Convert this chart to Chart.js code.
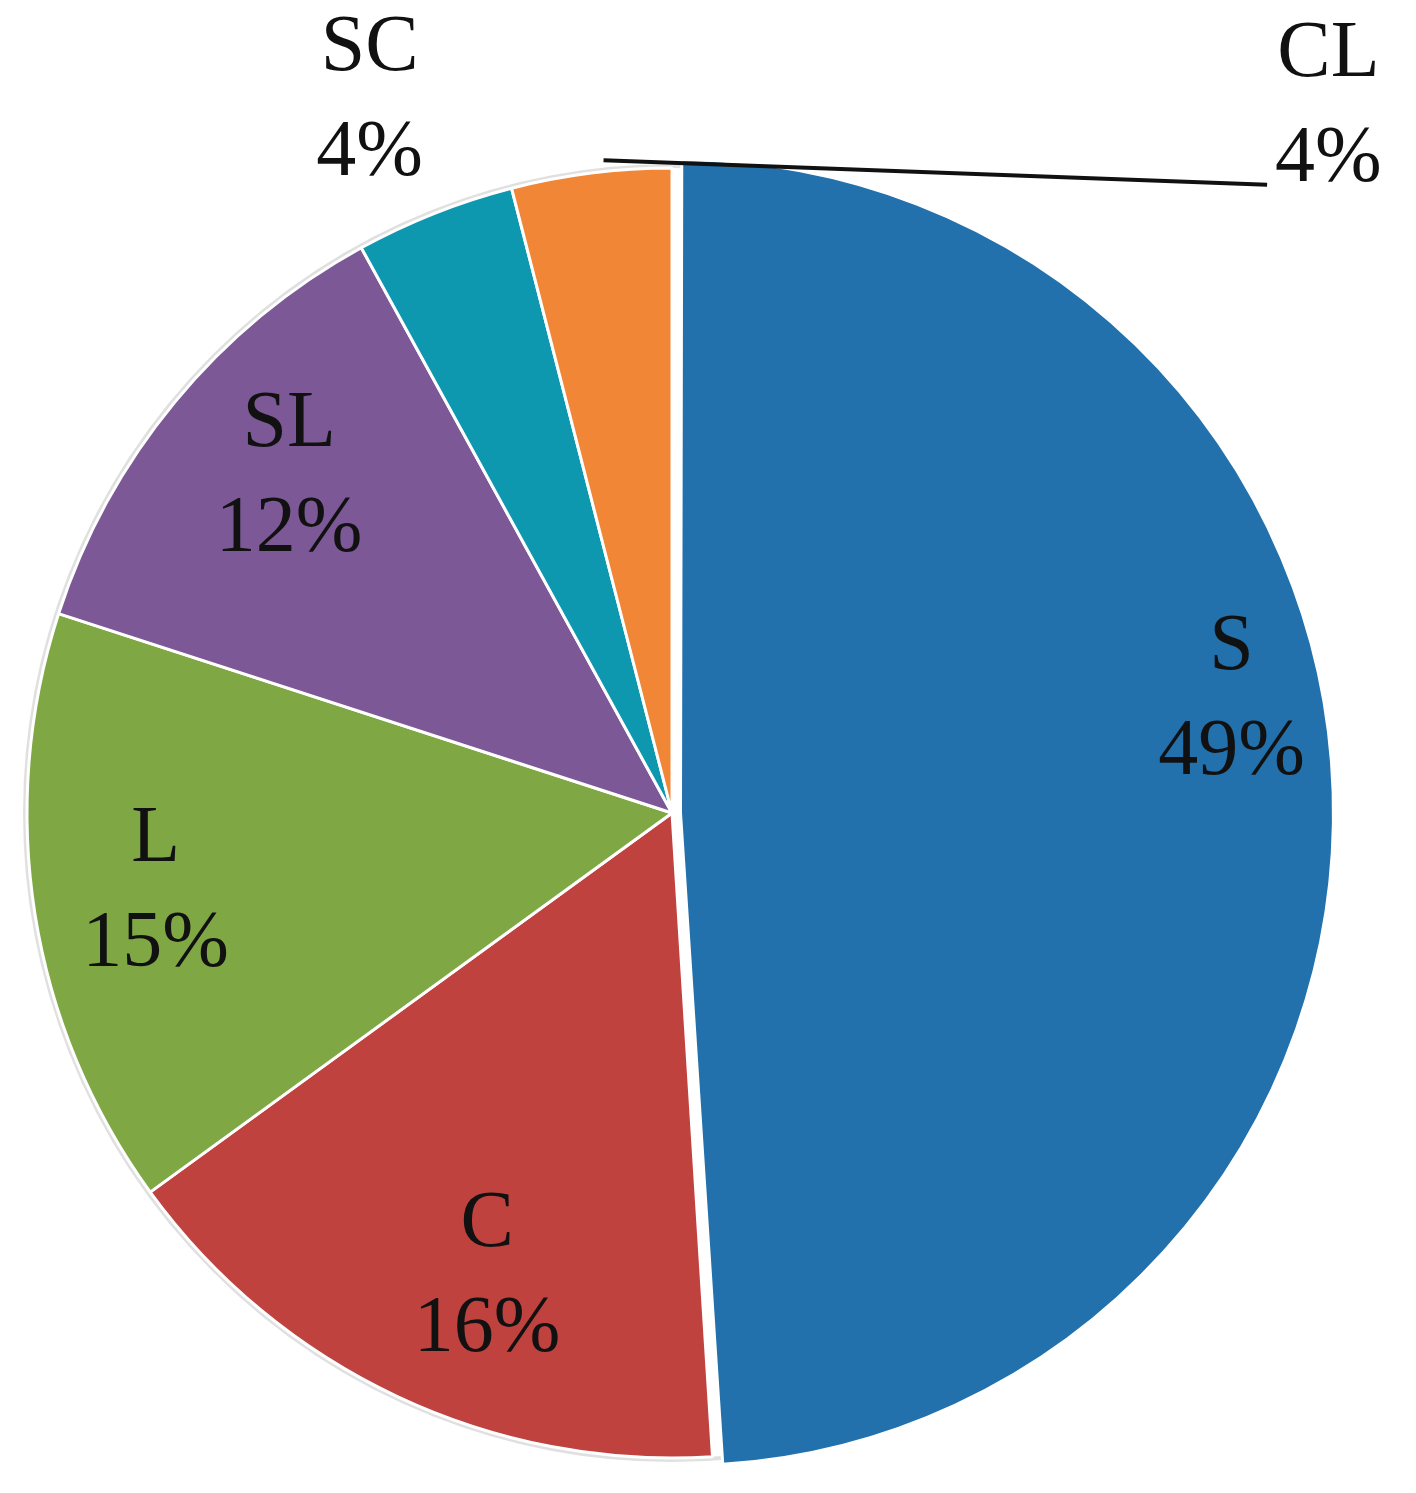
<!DOCTYPE html>
<html>
<head>
<meta charset="utf-8">
<script src="https://cdn.jsdelivr.net/npm/chart.js@4/dist/chart.umd.min.js"></script>
<style>
  html, body { margin: 0; padding: 0; background: #fff; }
  #wrap { width: 1416px; height: 1493px; }
</style>
</head>
<body>
<div id="wrap"><canvas id="c" width="1416" height="1493"></canvas></div>
<script>
const categories = ['S', 'C', 'L', 'SL', 'SC', 'CL'];
const shares = [49, 16, 15, 12, 4, 4];
const sliceColors = ['#2271ac', '#c0423f', '#7fa845', '#7d5896', '#0e98af', '#f18636'];
const sliceOffsets = [34, 0, 0, 0, 0, 0];
// label placement: [radius fraction, angle shift in degrees]
const labelPlacement = [[0.885, -9.6], [0.775, -3.5], [0.81, 0.3], [0.79, 1.7], [1.2, -1.4], [1.495, 50.1]];

const FONT = '80px "Liberation Serif", "DejaVu Serif", serif';

const labelPlugin = {
  id: 'sliceLabels',
  beforeDatasetsDraw(chart) {
    const meta = chart.getDatasetMeta(0);
    const a = meta.data[1];
    const ctx = chart.ctx;
    ctx.save();
    ctx.beginPath();
    ctx.arc(a.x, a.y, a.outerRadius + 2, 0, Math.PI * 2);
    ctx.strokeStyle = 'rgba(0,0,0,0.12)';
    ctx.lineWidth = 4;
    ctx.stroke();
    ctx.restore();
  },
  afterDatasetsDraw(chart) {
    const ctx = chart.ctx;
    const meta = chart.getDatasetMeta(0);
    const total = shares.reduce((s, v) => s + v, 0);
    ctx.save();
    ctx.font = FONT;
    ctx.fillStyle = '#111';
    ctx.textAlign = 'center';
    ctx.textBaseline = 'middle';
    meta.data.forEach((arc, i) => {
      const base = chart.getDatasetMeta(0).data[1];
      const cx = base.x, cy = base.y, R = base.outerRadius;
      const mid = (arc.startAngle + arc.endAngle) / 2;
      const [frac, shift] = labelPlacement[i];
      const ang = mid + shift * Math.PI / 180;
      const x = cx + Math.cos(ang) * R * frac;
      const y = cy + Math.sin(ang) * R * frac;
      const pct = Math.round(shares[i] / total * 100) + '%';
      ctx.fillText(categories[i], x, y - 52);
      ctx.fillText(pct, x, y + 53);
      if (i === categories.length - 1) {
        // leader line from slice edge to label
        const sx = cx + Math.cos(mid) * R * 1.02;
        const sy = cy + Math.sin(mid) * R * 1.02;
        const tw = ctx.measureText(pct).width;
        ctx.beginPath();
        ctx.moveTo(sx + 14, sy);
        ctx.lineTo(x - tw / 2 - 8, y + 78);
        ctx.strokeStyle = '#111';
        ctx.lineWidth = 4;
        ctx.stroke();
      }
    });
    ctx.restore();
  }
};

new Chart(document.getElementById('c'), {
  type: 'pie',
  data: {
    labels: categories,
    datasets: [{
      data: shares,
      backgroundColor: sliceColors,
      borderColor: '#ffffff',
      borderWidth: 3,
      offset: sliceOffsets
    }]
  },
  options: {
    responsive: false,
    animation: false,
    radius: 645,
    layout: { padding: { left: 22, right: 94, top: 163, bottom: 30 } },
    plugins: {
      legend: { display: false },
      tooltip: { enabled: false }
    }
  },
  plugins: [labelPlugin]
});
</script>
</body>
</html>
